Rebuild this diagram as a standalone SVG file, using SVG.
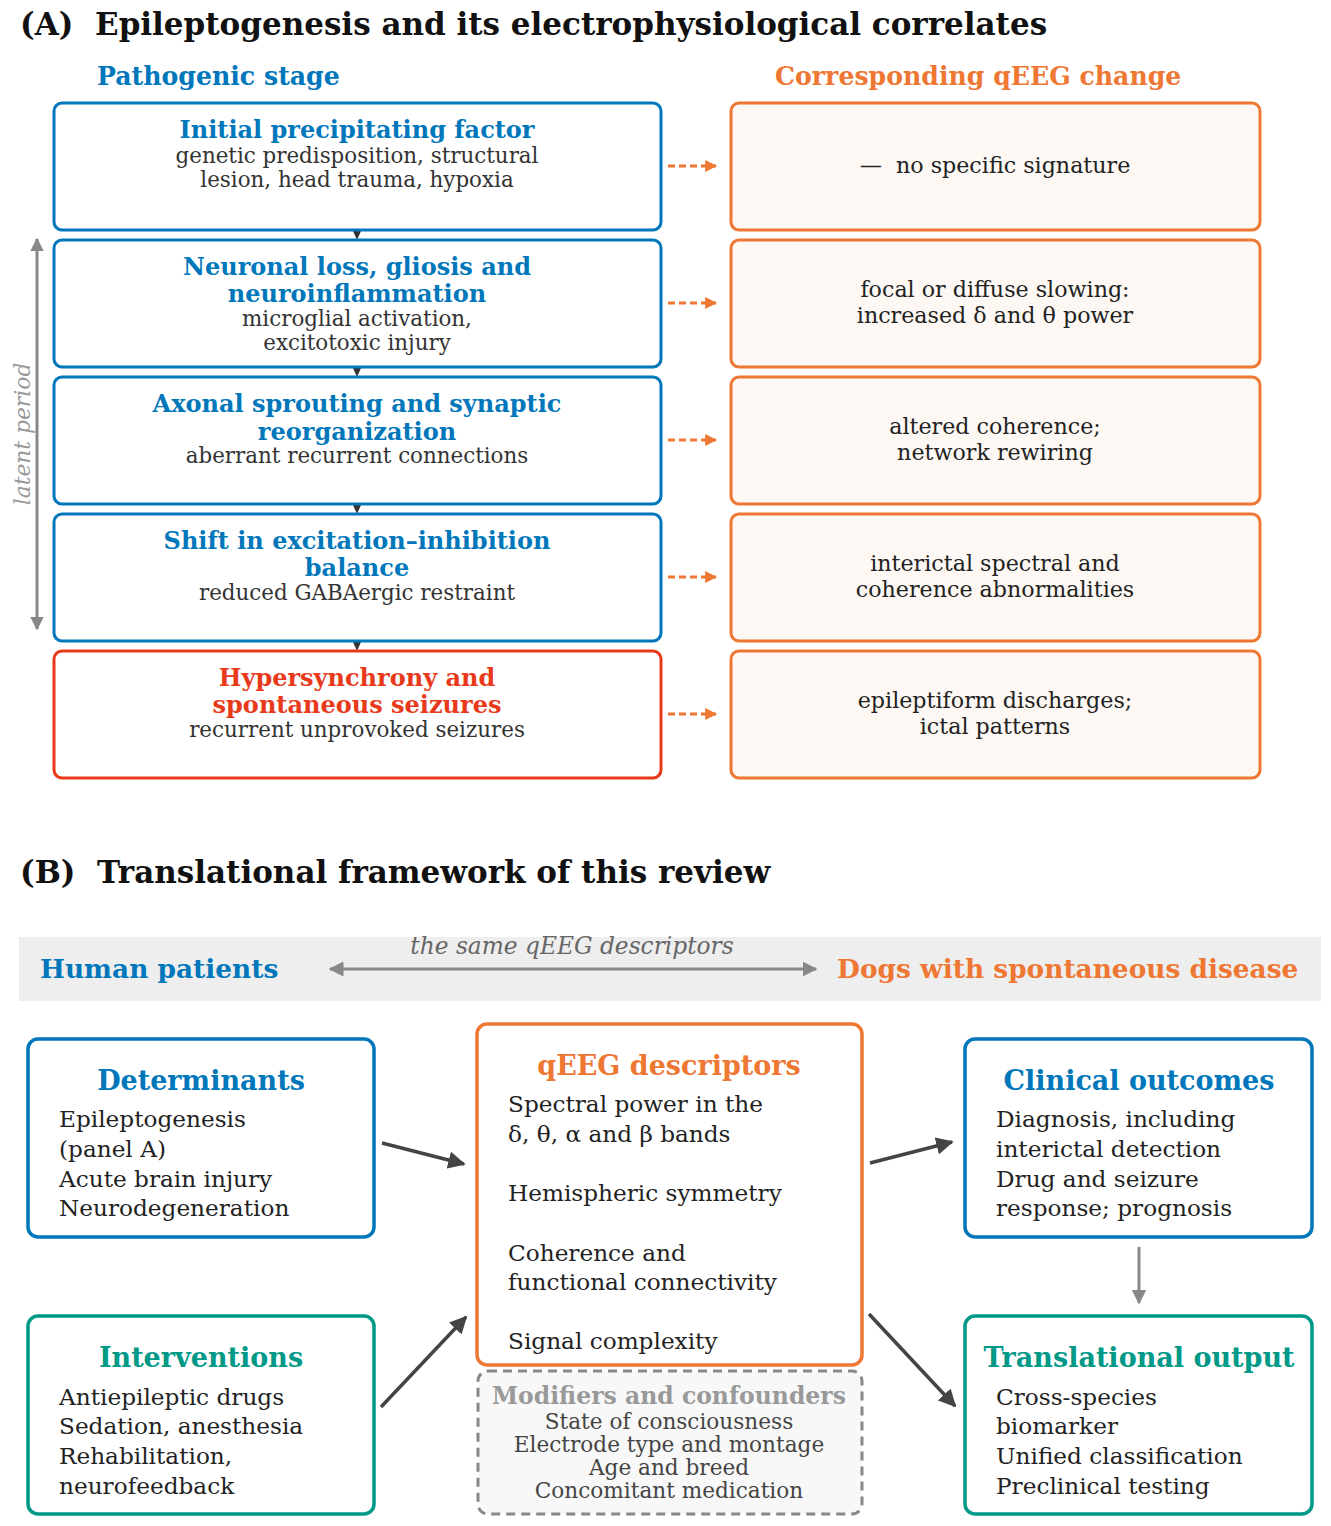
<svg xmlns="http://www.w3.org/2000/svg" width="1331" height="1526" viewBox="0 0 1331 1526">
<defs>
<style>
text{font-family:"DejaVu Serif","Liberation Serif",serif;}
.h{font-weight:bold;font-size:31px;fill:#111;}
.col{font-weight:bold;font-size:25.2px;}
.blue{fill:#0077bb;}
.orange{fill:#ee7733;}
.red{fill:#e83a1a;}
.teal{fill:#009988;}
.st{font-weight:bold;font-size:24px;text-anchor:middle;}
.sub{font-size:21.4px;fill:#333;text-anchor:middle;}
.qc{font-size:22.2px;fill:#222;text-anchor:middle;}
.lb{fill:#fff;stroke:#0077bb;stroke-width:3;}
.lr{fill:#fff;stroke:#e83a1a;stroke-width:3;}
.rb{fill:#fdf8f3;stroke:#ee7733;stroke-width:3;}
.bt{font-weight:bold;font-size:27px;text-anchor:middle;}
.it{font-size:23.2px;fill:#222;}
.mt{font-size:21.6px;fill:#444;text-anchor:middle;}
</style>
<marker id="ao" viewBox="0 0 10 10" refX="9" refY="5" markerWidth="4" markerHeight="4" orient="auto" markerUnits="strokeWidth"><path d="M0,0 L10,5 L0,10 z" fill="#ee7733"/></marker>
<marker id="ad" viewBox="0 0 10 10" refX="9" refY="5" markerWidth="5" markerHeight="5" orient="auto" markerUnits="strokeWidth"><path d="M0,0 L10,5 L0,10 z" fill="#444"/></marker>
<marker id="ag" viewBox="0 0 10 10" refX="9" refY="5" markerWidth="5" markerHeight="5" orient="auto-start-reverse" markerUnits="strokeWidth"><path d="M0,0 L10,5 L0,10 z" fill="#888"/></marker>
<marker id="ag2" viewBox="0 0 10 10" refX="9" refY="5" markerWidth="4.5" markerHeight="4.5" orient="auto-start-reverse" markerUnits="strokeWidth"><path d="M0,0 L10,5 L0,10 z" fill="#888"/></marker>
</defs>
<rect width="1331" height="1526" fill="#fff"/>

<text class="h" x="20" y="35">(A)</text>
<text class="h" x="95" y="35">Epileptogenesis and its electrophysiological correlates</text>
<text class="col blue" x="97" y="85">Pathogenic stage</text>
<text class="col orange" x="775" y="85">Corresponding qEEG change</text>

<g id="connectors-a">
<g stroke="#ee7733" stroke-width="3" stroke-dasharray="7,4" fill="none" marker-end="url(#ao)">
<line x1="668" y1="166" x2="716" y2="166"/>
<line x1="668" y1="303" x2="716" y2="303"/>
<line x1="668" y1="440" x2="716" y2="440"/>
<line x1="668" y1="577" x2="716" y2="577"/>
<line x1="668" y1="714" x2="716" y2="714"/>
</g>
<g fill="#333">
<path d="M353,231 L361,231 L357,240 z"/>
<path d="M353,368 L361,368 L357,377 z"/>
<path d="M353,505 L361,505 L357,514 z"/>
<path d="M353,642 L361,642 L357,651 z"/>
</g>
<line x1="37" y1="239" x2="37" y2="629" stroke="#888" stroke-width="3" marker-start="url(#ag2)" marker-end="url(#ag2)"/>
<text x="0" y="0" transform="translate(30,434) rotate(-90)" text-anchor="middle" font-style="italic" font-size="21.8" fill="#999">latent period</text>
</g>

<g id="stage1"><rect class="lb" x="54" y="103" width="607" height="127" rx="8"/>
<text class="st blue" x="357" y="138">Initial precipitating factor</text>
<text class="sub" x="357" y="163">genetic predisposition, structural</text>
<text class="sub" x="357" y="187">lesion, head trauma, hypoxia</text></g>
<g id="stage2"><rect class="lb" x="54" y="240" width="607" height="127" rx="8"/>
<text class="st blue" x="357" y="275">Neuronal loss, gliosis and</text>
<text class="st blue" x="357" y="302">neuroinflammation</text>
<text class="sub" x="357" y="326">microglial activation,</text>
<text class="sub" x="357" y="350">excitotoxic injury</text></g>
<g id="stage3"><rect class="lb" x="54" y="377" width="607" height="127" rx="8"/>
<text class="st blue" x="357" y="412">Axonal sprouting and synaptic</text>
<text class="st blue" x="357" y="440">reorganization</text>
<text class="sub" x="357" y="463">aberrant recurrent connections</text></g>
<g id="stage4"><rect class="lb" x="54" y="514" width="607" height="127" rx="8"/>
<text class="st blue" x="357" y="549">Shift in excitation–inhibition</text>
<text class="st blue" x="357" y="576">balance</text>
<text class="sub" x="357" y="600">reduced GABAergic restraint</text></g>
<g id="stage5"><rect class="lr" x="54" y="651" width="607" height="127" rx="8"/>
<text class="st red" x="357" y="686">Hypersynchrony and</text>
<text class="st red" x="357" y="713">spontaneous seizures</text>
<text class="sub" x="357" y="737">recurrent unprovoked seizures</text></g>

<g id="qeeg1"><rect class="rb" x="731" y="103" width="529" height="127" rx="8"/>
<text class="qc" x="995" y="173" xml:space="preserve">—  no specific signature</text></g>
<g id="qeeg2"><rect class="rb" x="731" y="240" width="529" height="127" rx="8"/>
<text class="qc" x="995" y="297">focal or diffuse slowing:</text>
<text class="qc" x="995" y="323">increased δ and θ power</text></g>
<g id="qeeg3"><rect class="rb" x="731" y="377" width="529" height="127" rx="8"/>
<text class="qc" x="995" y="434">altered coherence;</text>
<text class="qc" x="995" y="460">network rewiring</text></g>
<g id="qeeg4"><rect class="rb" x="731" y="514" width="529" height="127" rx="8"/>
<text class="qc" x="995" y="571">interictal spectral and</text>
<text class="qc" x="995" y="597">coherence abnormalities</text></g>
<g id="qeeg5"><rect class="rb" x="731" y="651" width="529" height="127" rx="8"/>
<text class="qc" x="995" y="708">epileptiform discharges;</text>
<text class="qc" x="995" y="734">ictal patterns</text></g>

<text class="h" x="20" y="883">(B)</text>
<text class="h" x="97" y="883">Translational framework of this review</text>

<g id="species-band">
<rect x="19" y="937" width="1302" height="64" fill="#eeeeee"/>
<text class="blue" x="40" y="978" font-weight="bold" font-size="26.4">Human patients</text>
<text class="orange" x="837" y="978" font-weight="bold" font-size="26.4">Dogs with spontaneous disease</text>
<line x1="330" y1="969" x2="816" y2="969" stroke="#888" stroke-width="3" marker-start="url(#ag)" marker-end="url(#ag)"/>
<text x="572" y="954" text-anchor="middle" font-style="italic" font-size="23.3" fill="#666">the same qEEG descriptors</text>
</g>

<g id="connectors-b" stroke="#444" stroke-width="3.5" fill="none" marker-end="url(#ad)">
<line x1="382" y1="1143" x2="464" y2="1164"/>
<line x1="381" y1="1407" x2="466" y2="1317"/>
<line x1="870" y1="1163" x2="952" y2="1142"/>
<line x1="869" y1="1314" x2="955" y2="1406"/>
<line x1="1139" y1="1247" x2="1139" y2="1303" stroke="#888" stroke-width="3" marker-end="url(#ag)"/>
</g>

<g id="determinants"><rect x="28" y="1039" width="346" height="198" rx="10" fill="#fff" stroke="#0077bb" stroke-width="3.5"/>
<text class="bt blue" x="201" y="1090">Determinants</text>
<text class="it" x="59" y="1127">Epileptogenesis</text>
<text class="it" x="59" y="1157">(panel A)</text>
<text class="it" x="59" y="1187">Acute brain injury</text>
<text class="it" x="59" y="1216">Neurodegeneration</text></g>

<g id="qeeg-descriptors"><rect x="477" y="1024" width="385" height="341" rx="10" fill="#fff" stroke="#ee7733" stroke-width="3.5"/>
<text class="bt orange" x="669" y="1075">qEEG descriptors</text>
<text class="it" x="508" y="1112">Spectral power in the</text>
<text class="it" x="508" y="1142">δ, θ, α and β bands</text>
<text class="it" x="508" y="1201">Hemispheric symmetry</text>
<text class="it" x="508" y="1261">Coherence and</text>
<text class="it" x="508" y="1290">functional connectivity</text>
<text class="it" x="508" y="1349">Signal complexity</text></g>

<g id="modifiers"><rect x="478" y="1371" width="384" height="143" rx="10" fill="#f8f8f8" stroke="#888" stroke-width="3" stroke-dasharray="9,6"/>
<text x="669" y="1404" text-anchor="middle" font-weight="bold" font-size="23.5" fill="#999">Modifiers and confounders</text>
<text class="mt" x="669" y="1429">State of consciousness</text>
<text class="mt" x="669" y="1452">Electrode type and montage</text>
<text class="mt" x="669" y="1475">Age and breed</text>
<text class="mt" x="669" y="1498">Concomitant medication</text></g>

<g id="clinical"><rect x="965" y="1039" width="347" height="198" rx="10" fill="#fff" stroke="#0077bb" stroke-width="3.5"/>
<text class="bt blue" x="1139" y="1090">Clinical outcomes</text>
<text class="it" x="996" y="1127">Diagnosis, including</text>
<text class="it" x="996" y="1157">interictal detection</text>
<text class="it" x="996" y="1187">Drug and seizure</text>
<text class="it" x="996" y="1216">response; prognosis</text></g>

<g id="interventions"><rect x="28" y="1316" width="346" height="198" rx="10" fill="#fff" stroke="#009988" stroke-width="3.5"/>
<text class="bt teal" x="201" y="1367">Interventions</text>
<text class="it" x="59" y="1405">Antiepileptic drugs</text>
<text class="it" x="59" y="1434">Sedation, anesthesia</text>
<text class="it" x="59" y="1464">Rehabilitation,</text>
<text class="it" x="59" y="1494">neurofeedback</text></g>

<g id="translational"><rect x="965" y="1316" width="347" height="198" rx="10" fill="#fff" stroke="#009988" stroke-width="3.5"/>
<text class="bt teal" x="1139" y="1367">Translational output</text>
<text class="it" x="996" y="1405">Cross-species</text>
<text class="it" x="996" y="1434">biomarker</text>
<text class="it" x="996" y="1464">Unified classification</text>
<text class="it" x="996" y="1494">Preclinical testing</text></g>
</svg>
